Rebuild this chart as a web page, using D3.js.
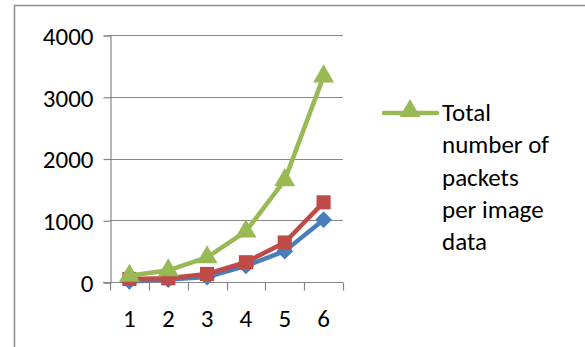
<!DOCTYPE html>
<html>
<head>
<meta charset="utf-8">
<script src="https://cdn.jsdelivr.net/npm/d3@7"></script>
<style>
  body { margin: 0; background: #fff; }
  text { font-family: Carlito, Calibri, "Liberation Sans", sans-serif; fill: #000; }
</style>
</head>
<body>
<svg id="chart" width="585" height="347"></svg>
<script>
// data
var categories = ['1', '2', '3', '4', '5', '6']
var seriesBlue = [10, 40, 80, 260, 500, 1010]
var seriesRed = [50, 60, 130, 320, 640, 1290]
var seriesGreen = [100, 190, 400, 820, 1650, 3330]
var yTicks = [0, 1000, 2000, 3000, 4000]
var legendLines = ['Total', 'number of', 'packets', 'per image', 'data']

var colorBlue = '#4a7ebb'
var colorRed = '#be4b48'
var colorGreen = '#98b954'
var colorAxis = '#868686'
var fontSize = '25px'

var svg = d3.select('#chart')

// outer frame (left + top only)
svg.append('path')
  .attr('d', 'M14.5,347V5.5H585')
  .attr('fill', 'none')
  .attr('stroke', '#8c8c8c')
  .attr('stroke-width', 1.5)

var x = d3.scaleBand().domain(categories).range([110, 343])
var y = d3.scaleLinear().domain([0, 4000]).range([282, 35])

// gridlines
svg.append('g')
  .selectAll('line')
  .data(yTicks.filter(function(d) { return d > 0 }))
  .join('line')
  .attr('x1', 110).attr('x2', 343)
  .attr('y1', function(d) { return Math.round(y(d)) + 0.5 })
  .attr('y2', function(d) { return Math.round(y(d)) + 0.5 })
  .attr('stroke', colorAxis)
  .attr('stroke-width', 1.2)

// y axis
var yAxis = svg.append('g')
  .attr('transform', 'translate(110.5,0.5)')
  .call(d3.axisLeft(y).tickValues(yTicks).tickSize(7).tickPadding(10).tickFormat(d3.format('d')))
yAxis.select('.domain').attr('stroke', colorAxis).attr('stroke-width', 1.2)
yAxis.selectAll('.tick line').attr('stroke', colorAxis).attr('stroke-width', 1.2)
yAxis.selectAll('text').style('font-size', fontSize).attr('dy', '0.35em')

// x axis, ticks between categories
var xg = svg.append('g').attr('transform', 'translate(0,' + (Math.round(y(0)) + 0.5) + ')')
xg.append('line').attr('x1', 103).attr('x2', 343)
  .attr('stroke', colorAxis).attr('stroke-width', 1.2)
var bounds = categories.map(function(c) { return x(c) }).concat([x.range()[1]])
xg.selectAll('line.tk').data(bounds).join('line').attr('class', 'tk')
  .attr('x1', function(d) { return Math.round(d) + 0.5 })
  .attr('x2', function(d) { return Math.round(d) + 0.5 })
  .attr('y1', 0).attr('y2', 8)
  .attr('stroke', colorAxis).attr('stroke-width', 1.2)
xg.selectAll('text').data(categories).join('text')
  .attr('x', function(d) { return x(d) + x.bandwidth() / 2 })
  .attr('y', 44)
  .attr('text-anchor', 'middle')
  .style('font-size', fontSize)
  .text(function(d) { return d })

var line = d3.line()
  .x(function(d, i) { return x(categories[i]) + x.bandwidth() / 2 })
  .y(function(d) { return y(d) })

function drawSeries(values, color, symbolType, size) {
  svg.append('path')
    .datum(values)
    .attr('d', line)
    .attr('fill', 'none')
    .attr('stroke', color)
    .attr('stroke-width', 4.5)
    .attr('stroke-linejoin', 'round')
  svg.append('g').selectAll('path')
    .data(values)
    .join('path')
    .attr('transform', function(d, i) {
      return 'translate(' + (x(categories[i]) + x.bandwidth() / 2) + ',' + y(d) + ')'
    })
    .attr('d', d3.symbol().type(symbolType).size(size))
    .attr('fill', color)
}

drawSeries(seriesBlue, colorBlue, d3.symbolDiamond2, 180)
drawSeries(seriesRed, colorRed, d3.symbolSquare, 200)
drawSeries(seriesGreen, colorGreen, d3.symbolTriangle, 190)

// legend
var lg = svg.append('g')
lg.append('line')
  .attr('x1', 384).attr('x2', 437).attr('y1', 113).attr('y2', 113)
  .attr('stroke', colorGreen).attr('stroke-width', 4.5).attr('stroke-linecap', 'round')
lg.append('path')
  .attr('transform', 'translate(410,111)')
  .attr('d', d3.symbol().type(d3.symbolTriangle).size(190))
  .attr('fill', colorGreen)
lg.selectAll('text').data(legendLines).join('text')
  .attr('x', 442)
  .attr('y', function(d, i) { return 121 + i * 32.3 })
  .style('font-size', fontSize)
  .text(function(d) { return d })
</script>
</body>
</html>
